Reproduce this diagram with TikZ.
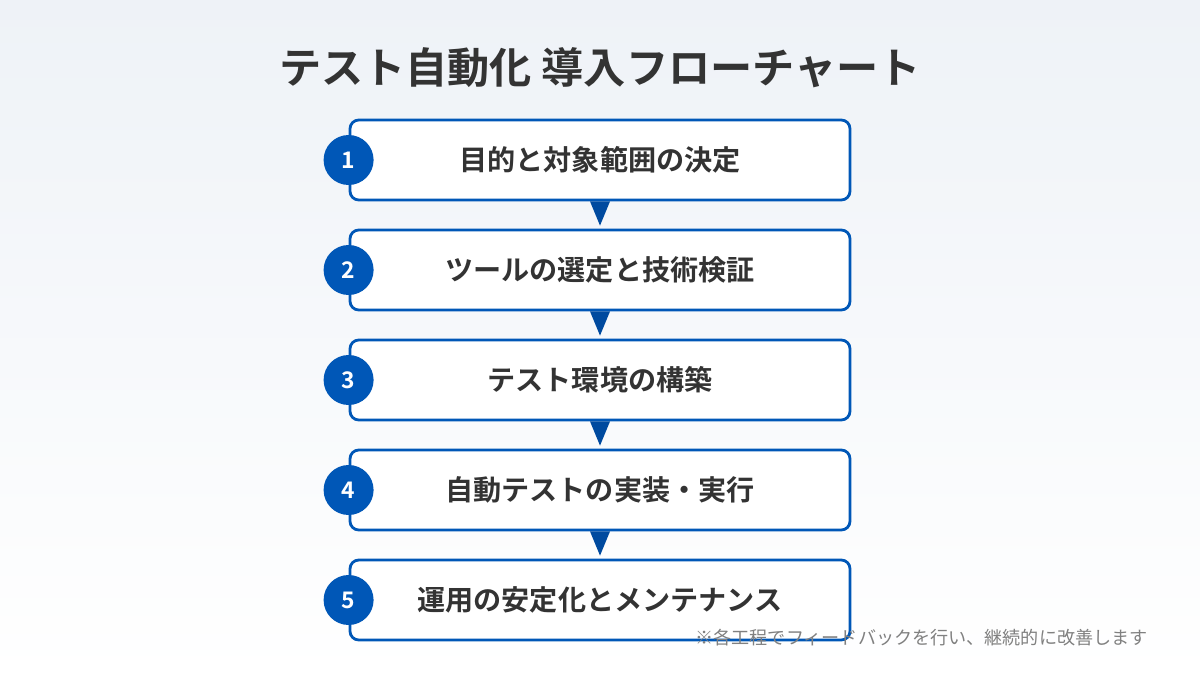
\documentclass[tikz,border=0pt]{standalone}
\usepackage{fontspec}
\setmainfont{Noto Sans CJK JP}
\newfontfamily\jpbold{Noto Sans CJK JP Bold}
\usetikzlibrary{positioning}
\definecolor{mainblue}{HTML}{0057B7}
\definecolor{arrowblue}{HTML}{004A9F}
\definecolor{textdark}{HTML}{333333}
\definecolor{bgtop}{HTML}{EEF2F7}
\tikzset{
  stepbox/.style={draw=mainblue, line width=1.6pt, fill=white, rounded corners=5pt,
    minimum width=10cm, minimum height=1.6cm, text=textdark,
    font=\jpbold\fontsize{16}{18}\selectfont},
  numdot/.style={circle, fill=mainblue, minimum size=1cm, inner sep=0pt,
    text=white, font=\jpbold\fontsize{13}{14}\selectfont},
  tri/.style={fill=arrowblue}
}
\begin{document}
\begin{tikzpicture}
  % Hintergrund
  \shade[top color=bgtop, bottom color=white] (0,0) rectangle (24,13.5);
  \useasboundingbox (0,0) rectangle (24,13.5);

  % Titel
  \node[text=textdark, font=\jpbold\fontsize{24}{28}\selectfont] (title) at (12,12.14)
    {テスト自動化 導入フローチャート};

  % Schritte
  \foreach \i/\y/\txt in {1/10.3/目的と対象範囲の決定, 2/8.1/ツールの選定と技術検証,
      3/5.9/テスト環境の構築, 4/3.7/自動テストの実装・実行, 5/1.5/運用の安定化とメンテナンス} {
    \node[stepbox] (s\i) at (12,\y) {\txt};
    \node[numdot] (n\i) at (s\i.west) {\i};
  }

  % Pfeile
  \foreach \i [evaluate=\i as \j using int(\i+1)] in {1,...,4} {
    \fill[tri] ([xshift=-0.2cm]s\i.south) -- ([xshift=0.2cm]s\i.south)
      -- ([yshift=0.06cm]s\j.north) -- cycle;
  }

  % Fussnote
  \node[anchor=east, inner sep=0pt, text=gray, font=\fontsize{10.3}{12}\selectfont] (note) at (22.96,0.74)
    {※各工程でフィードバックを行い、継続的に改善します};
\end{tikzpicture}
\end{document}
